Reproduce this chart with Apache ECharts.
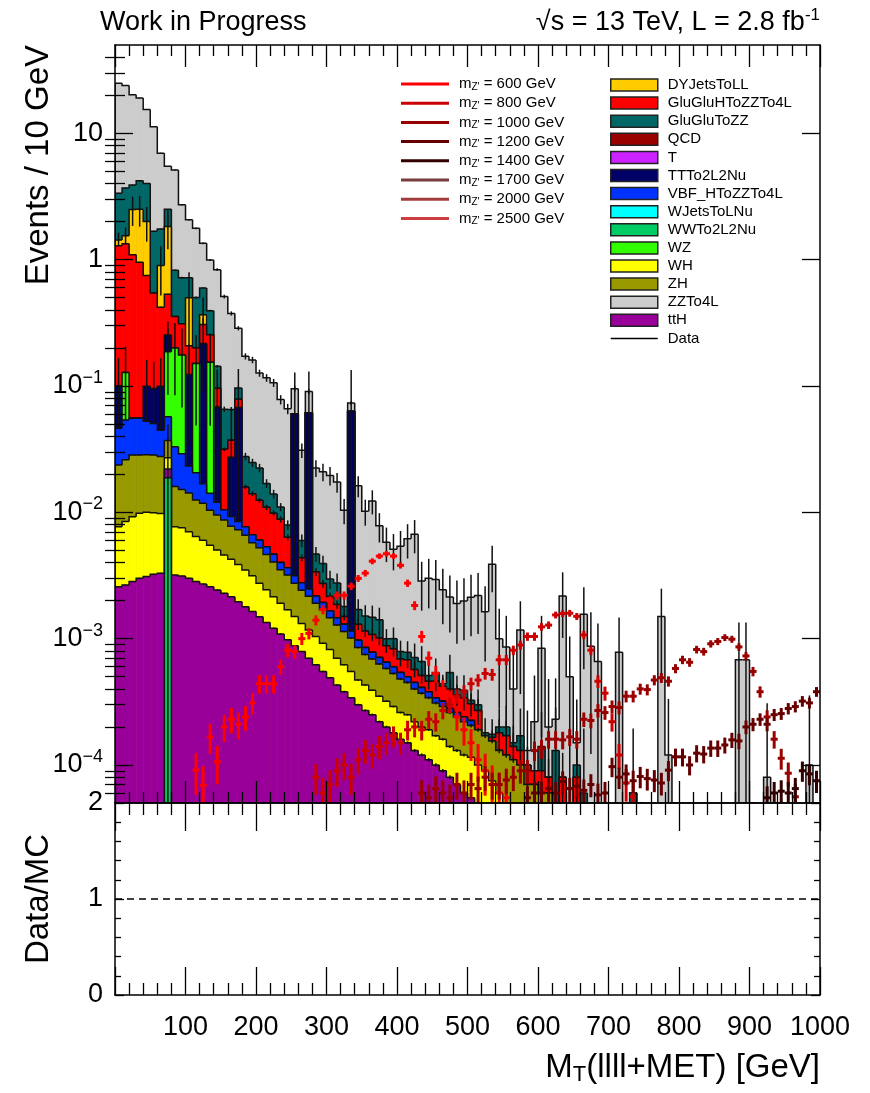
<!DOCTYPE html>
<html>
<head>
<meta charset="utf-8">
<title>MT(llll+MET) stack</title>
<script src="https://cdn.jsdelivr.net/npm/echarts@6/dist/echarts.min.js"></script>
<style>
  html, body { margin: 0; padding: 0; background: #fff; }
  #chart { width: 870px; height: 1093px; }
</style>
</head>
<body>
<div id="chart"></div>
<script>
// 100 bins of 10 GeV, 0 - 1000 GeV; bin 0 = 0-10 GeV
const binWidth = 10;
const nBins = 100;
const YMIN = 5e-5, YMAX = 50;
const FONT = '"Liberation Sans", Arial, Helvetica, sans-serif';

// backgrounds, events / bin
const wwTo2L2Nu = [
  0, 0, 0, 0, 0, 0, 0, 0.0188, 0, 0,
  0, 0, 0, 0, 0, 0, 0, 0, 0, 0,
  0, 0, 0, 0, 0, 0, 0, 0, 0, 0,
  0, 0, 0, 0, 0, 0, 0, 0, 0, 0,
  0, 0, 0, 0, 0, 0, 0, 0, 0, 0,
  0, 0, 0, 0, 0, 0, 0, 0, 0, 0,
  0, 0, 0, 0, 0, 0, 0, 0, 0, 0,
  0, 0, 0, 0, 0, 0, 0, 0, 0, 0,
  0, 0, 0, 0, 0, 0, 0, 0, 0, 0,
  0, 0, 0, 0, 0, 0, 0, 0, 0, 0
];
const ttH = [
  0.00258, 0.00266, 0.00283, 0.00301, 0.0031, 0.00324, 0.0033, 0.0032, 0.00319, 0.00313,
  0.00301, 0.00283, 0.00271, 0.00258, 0.00243, 0.00229, 0.00215, 0.00196, 0.00179, 0.00164,
  0.00149, 0.00134, 0.00121, 0.00109, 0.00098, 0.00088, 0.00079, 0.0007, 0.00062, 0.00055,
  0.00049, 0.00043, 0.00038, 0.00034, 0.0003, 0.00027, 0.00025, 0.00022, 0.0002, 0.00018,
  0.00016, 0.00015, 0.00013, 0.00012, 0.00011, 0.0001, 0.00009, 0.00008, 0.00007, 0.00006,
  0.000055, 0.00004, 0.00003, 0.00002, 0.00001, 0, 0, 0, 0, 0,
  0, 0, 0, 0, 0, 0, 0, 0, 0, 0,
  0, 0, 0, 0, 0, 0, 0, 0, 0, 0,
  0, 0, 0, 0, 0, 0, 0, 0, 0, 0,
  0, 0, 0, 0, 0, 0, 0, 0, 0, 0
];
const wh = [
  0.0051, 0.0058, 0.0064, 0.0068, 0.0069, 0.0067, 0.0065, 0.005, 0.0045, 0.0044,
  0.004, 0.0036, 0.0033, 0.0029, 0.0026, 0.0023, 0.0021, 0.0019, 0.0017, 0.0015,
  0.00125, 0.0011, 0.00094, 0.00082, 0.00071, 0.00062, 0.00053, 0.00047, 0.00042, 0.00037,
  0.00033, 0.00027, 0.00024, 0.00021, 0.00017, 0.00016, 0.00014, 0.00013, 0.00012, 0.00011,
  0.0001, 0.0001, 0.00009, 0.00008, 0.00008, 0.00007, 0.00007, 0.00006, 0.00006, 0.00006,
  0.00006, 0.00006, 0.00006, 0.000055, 0.00005, 0.00005, 0.00004, 0.00003, 0, 0,
  0, 0, 0, 0, 0, 0, 0, 0, 0, 0,
  0, 0, 0, 0, 0, 0, 0, 0, 0, 0,
  0, 0, 0, 0, 0, 0, 0, 0, 0, 0,
  0, 0, 0, 0, 0, 0, 0, 0, 0, 0
];
const zh = [
  0.016, 0.0176, 0.0192, 0.0186, 0.0185, 0.0185, 0.0179, 0.01, 0.0083, 0.0076,
  0.0072, 0.0061, 0.0058, 0.0049, 0.0045, 0.0041, 0.0035, 0.0034, 0.0031, 0.0026,
  0.0025, 0.0022, 0.0019, 0.0016, 0.0015, 0.00125, 0.0011, 0.001, 0.00087, 0.00077,
  0.00064, 0.00058, 0.00052, 0.00046, 0.00038, 0.00032, 0.0003, 0.00028, 0.00026, 0.00024,
  0.00022, 0.0002, 0.00018, 0.00017, 0.00015, 0.00014, 0.00013, 0.00012, 0.00011, 0.0001,
  0.00009, 0.00009, 0.00008, 0.00008, 0.00007, 0.00007, 0.00007, 0.00007, 0.00007, 0.00007,
  0.00006, 0.00006, 0.00005, 0.00004, 0.00003, 0, 0, 0, 0, 0,
  0, 0, 0, 0, 0, 0, 0, 0, 0, 0,
  0, 0, 0, 0, 0, 0, 0, 0, 0, 0,
  0, 0, 0, 0, 0, 0, 0, 0, 0, 0
];
const vbfHToZZTo4L = [
  0.0225, 0.0278, 0.027, 0.027, 0.024, 0.022, 0.017, 0.02, 0.017, 0.014,
  0.009, 0.008, 0.005, 0.0038, 0.0025, 0.0018, 0.0015, 0.0012, 0.0011, 0.0009,
  0.0008, 0.0007, 0.0006, 0.0005, 0.00045, 0.0004, 0.00035, 0.0003, 0.00027, 0.00024,
  0.0002, 0.00018, 0.00016, 0.00014, 0.00012, 0.0001, 0.00009, 0.00008, 0.00007, 0.00007,
  0.00006, 0.00005, 0.00005, 0.00004, 0.00004, 0.00003, 0.00003, 0.00002, 0.00002, 0.00002,
  0.00002, 0, 0, 0, 0, 0, 0, 0, 0, 0,
  0, 0, 0, 0, 0, 0, 0, 0, 0, 0,
  0, 0, 0, 0, 0, 0, 0, 0, 0, 0,
  0, 0, 0, 0, 0, 0, 0, 0, 0, 0,
  0, 0, 0, 0, 0, 0, 0, 0, 0, 0
];
const wz = [
  0, 0.074, 0, 0, 0, 0, 0, 0.13, 0.167, 0.147,
  0, 0.13, 0, 0.14, 0, 0, 0, 0, 0, 0,
  0, 0, 0, 0, 0, 0, 0, 0, 0, 0,
  0, 0, 0, 0, 0, 0, 0, 0, 0, 0,
  0, 0, 0, 0, 0, 0, 0, 0, 0, 0,
  0, 0, 0, 0, 0, 0, 0, 0, 0, 0,
  0, 0, 0, 0, 0, 0, 0, 0, 0, 0,
  0, 0, 0, 0, 0, 0, 0, 0, 0, 0,
  0, 0, 0, 0, 0, 0, 0, 0, 0, 0,
  0, 0, 0, 0, 0, 0, 0, 0, 0, 0
];
const ttTo2L2Nu = [
  0.054, 0, 0, 0, 0.047, 0.045, 0.055, 0.066, 0, 0,
  0.1, 0, 0.2, 0, 0.056, 0, 0.018, 0.059, 0, 0,
  0, 0, 0, 0, 0, 0.057, 0, 0.059, 0, 0,
  0, 0, 0, 0.062, 0, 0, 0, 0, 0, 0,
  0, 0, 0, 0, 0, 0, 0, 0, 0, 0,
  0, 0, 0, 0, 0, 0, 0, 0, 0, 0,
  0, 0, 0, 0, 0, 0, 0, 0, 0, 0,
  0, 0, 0, 0, 0, 0, 0, 0, 0, 0,
  0, 0, 0, 0, 0, 0, 0, 0, 0, 0,
  0, 0, 0, 0, 0, 0, 0, 0, 0, 0
];
const gluGluHToZZTo4L = [
  1.19, 1.21, 1.04, 0.9, 0.65, 0.45, 0.32, 0.28, 0.154, 0.134,
  0.085, 0.05, 0.09, 0.1, 0.028, 0.021, 0.01, 0.011, 0.0082, 0.0074,
  0.0064, 0.0056, 0.0052, 0.0048, 0.0027, 0, 0.0016, 0, 0.0012, 0.0008,
  0.0005, 0.0004, 0.0002, 0, 0.00033, 0.0003, 0.0003, 0.0003, 0.00023, 0.00023,
  0.00015, 0.00018, 0.00012, 0.0001, 0.00008, 0.00012, 0.0001, 0.00012, 0.0001, 0.0001,
  0.00008, 0.00008, 0, 0.00001, 0.00005, 0.00005, 0.00003, 0.00003, 0.00003, 0.00002,
  0.00003, 0.00002, 0, 0.00004, 0, 0.00008, 0, 0, 0, 0,
  0, 0, 0, 0, 0, 0, 0, 0, 0, 0,
  0, 0, 0, 0, 0, 0, 0, 0, 0, 0,
  0, 0, 0, 0, 0, 0, 0, 0, 0, 0
];
const dyJetsToLL = [
  0.14, 0.21, 1.4, 1.55, 1.25, 0, 0.48, 1.3, 0, 0,
  0.29, 0, 0.06, 0, 0, 0, 0, 0, 0, 0,
  0, 0, 0, 0, 0, 0, 0, 0, 0, 0,
  0, 0, 0, 0, 0, 0, 0, 0, 0, 0,
  0, 0, 0, 0, 0, 0, 0, 0, 0, 0,
  0, 0, 0, 0, 0, 0, 0, 0, 0, 0,
  0, 0, 0, 0, 0, 0, 0, 0, 0, 0,
  0, 0, 0, 0, 0, 0, 0, 0, 0, 0,
  0, 0, 0, 0, 0, 0, 0, 0, 0, 0,
  0, 0, 0, 0, 0, 0, 0, 0, 0, 0
];
const gluGluToZZ = [
  1.93, 2.15, 1.4, 1.7, 2.0, 1.13, 0.85, 0.67, 0.47, 0.41,
  0.22, 0.3, 0.23, 0.14, 0.047, 0.034, 0.028, 0.018, 0.0118, 0.0107,
  0.01, 0.006, 0.0041, 0.0022, 0.0016, 0, 0.0016, 0, 0.0013, 0.0012,
  0.0008, 0.0009, 0.0003, 0, 0.0004, 0.00036, 0.0004, 0.0004, 0.00012, 0.00017,
  0.0001, 0.0001, 0.00014, 0.00015, 0.00005, 0.00008, 0.00002, 0.00014, 0.00004, 0.00005,
  0.00002, 0.00003, 0.00001, 0.00001, 0.00002, 0.00003, 0.00001, 0.00004, 0, 0,
  0.00005, 0, 0.00008, 0, 0.00002, 0.00002, 0.00006, 0.00001, 0, 0,
  0, 0.00005, 0, 0.00006, 0, 0, 0, 0, 0.00005, 0,
  0, 0, 0, 0, 0, 0, 0, 0, 0, 0,
  0, 0, 0, 0, 0, 0, 0, 0, 0, 0
];
const zzTo4L = [
  21.5, 20.2, 16.3, 14.8, 11.4, 9.6, 5.2, 2.97, 4.3, 2.0,
  1.35, 1.27, 0.75, 0.6, 0.69, 0.445, 0.31, 0.19, 0.144, 0.136,
  0.104, 0.099, 0.092, 0.067, 0.058, 0.035, 0.025, 0.029, 0.0177, 0.017,
  0.0166, 0.0146, 0.0086, 0.01, 0.0145, 0.0087, 0.0108, 0.0064, 0.0048, 0.0041,
  0.0046, 0.0054, 0.006, 0.0022, 0.0025, 0.0024, 0.002, 0.0016, 0.0015, 0.0016,
  0.0018, 0.0019, 0.00145, 0.0037, 0.0008, 0.00066, 0.00025, 0.001, 0.00003, 0.00013,
  0.0007, 0.00012, 0.0001, 0.0021, 0.00045, 0.00005, 0.0015, 0.00086, 0.00066, 0,
  0, 0.00073, 0, 0, 0, 0, 0, 0.0015, 0.00007, 0,
  0, 0, 0, 0, 0, 0, 0, 0, 0.00068, 0.00068,
  0, 0, 0.00008, 0, 0, 0, 0, 0, 0.0001, 0
];

// Z' signals: first bin index, then values per bin
const sig600Start = 11;
const sig600 = [
  9.1e-5, 6.9e-5, 1.67e-4, 1.06e-4, 2.0e-4, 2.3e-4, 2.1e-4, 2.4e-4, 3.1e-4, 4.4e-4,
  4.4e-4, 4.4e-4, 6.0e-4, 8.1e-4, 7.9e-4, 1.0e-3, 1.1e-3, 1.4e-3, 1.7e-3, 2.0e-3,
  2.2e-3, 2.2e-3, 2.6e-3, 3.0e-3, 3.3e-3, 4.1e-3, 4.5e-3, 4.7e-3, 4.5e-3, 3.8e-3,
  2.75e-3, 1.83e-3, 1.04e-3, 7.0e-4, 5.3e-4, 4.0e-4, 3.2e-4, 2.4e-4, 1.9e-4, 1.5e-4,
  1.1e-4, 9e-5, 7e-5, 6e-5, 5.5e-5
];
const sig800Start = 28;
const sig800 = [
  8e-5, 6e-5, 7e-5, 9e-5, 1.0e-4, 8e-5, 1.1e-4, 1.3e-4, 1.2e-4, 1.4e-4,
  1.5e-4, 1.7e-4, 1.5e-4, 1.9e-4, 2.0e-4, 1.9e-4, 2.3e-4, 2.2e-4, 2.7e-4, 3.0e-4,
  3.5e-4, 3.8e-4, 4.4e-4, 4.7e-4, 5.3e-4, 5.2e-4, 6.8e-4, 6.8e-4, 8.1e-4, 8.9e-4,
  1.04e-3, 1.04e-3, 1.24e-3, 1.28e-3, 1.54e-3, 1.58e-3, 1.59e-3, 1.5e-3, 1.07e-3, 8.1e-4,
  4.6e-4, 3.7e-4, 2.2e-4, 1.2e-4, 7.2e-5, 5.6e-5
];
const sig1000Start = 43;
const sig1000 = [
  6e-5, 5.5e-5, 6.5e-5, 6e-5, 5.5e-5, 7e-5, 6e-5, 7e-5, 6.5e-5, 8e-5,
  7e-5, 7e-5, 7.6e-5, 8e-5, 9e-5, 9e-5, 1.3e-4, 1.35e-4, 1.6e-4, 1.6e-4,
  1.58e-4, 1.67e-4, 1.6e-4, 2.3e-4, 2.25e-4, 2.7e-4, 2.6e-4, 2.9e-4, 2.85e-4, 3.5e-4,
  3.5e-4, 4.0e-4, 3.95e-4, 4.7e-4, 4.9e-4, 4.6e-4, 5.8e-4, 6.8e-4, 6.5e-4, 8.2e-4,
  7.9e-4, 9.1e-4, 9.5e-4, 1.02e-3, 9.9e-4, 8.6e-4, 7.3e-4, 5.5e-4, 3.8e-4, 2.4e-4,
  1.6e-4, 1.13e-4, 8.6e-5, 5.6e-5
];
const sig1200Start = 58;
const sig1200 = [
  5.5e-5, 6e-5, 6e-5, 6.5e-5, 6e-5, 7.4e-5, 6.5e-5, 6.8e-5, 6.3e-5, 7e-5,
  5.8e-5, 6e-5, 9.7e-5, 8e-5, 8.5e-5, 7.5e-5, 8.1e-5, 7.8e-5, 7.6e-5, 7.2e-5,
  9.1e-5, 1.16e-4, 1.16e-4, 1e-4, 1.24e-4, 1.22e-4, 1.36e-4, 1.36e-4, 1.44e-4, 1.58e-4,
  1.55e-4, 2.0e-4, 2.1e-4, 2.3e-4, 2.1e-4, 2.5e-4, 2.55e-4, 2.8e-4, 2.9e-4, 3.2e-4,
  3.1e-4, 3.8e-4
];
const sig1400Start = 92;
const sig1400 = [5.5e-5, 6e-5, 6.2e-5, 6e-5, 6.5e-5, 9e-5, 8.5e-5, 7.5e-5];

const decadeTicks = [1e-4, 1e-3, 1e-2, 1e-1, 1, 10];
const xLabelTicks = [100, 200, 300, 400, 500, 600, 700, 800, 900, 1000];

// log minor ticks at 2..9 x 10^n inside the axis range
const logMinorTicks = [];
for (let e = -5; e <= 1; e++) {
  for (let k = 2; k <= 9; k++) {
    const v = +(k * Math.pow(10, e)).toPrecision(3);
    if (v > YMIN * 1.001 && v < YMAX * 0.999) logMinorTicks.push(v);
  }
}

// stack, bottom first; w = per-event weight for the MC error bar
const stackLayers = [
  { name: 'WWTo2L2Nu', values: wwTo2L2Nu, color: '#00cc66', w: 0.05 },
  { name: 'ttH', values: ttH, color: '#990099', w: 1e-7 },
  { name: 'WH', values: wh, color: '#ffff00', w: 2e-7 },
  { name: 'ZH', values: zh, color: '#999900', w: 5e-7 },
  { name: 'VBF_HToZZTo4L', values: vbfHToZZTo4L, color: '#0033ff', w: 1e-6 },
  { name: 'WZ', values: wz, color: '#33ff00', w: 0.08 },
  { name: 'TTTo2L2Nu', values: ttTo2L2Nu, color: '#000066', w: 0.08 },
  { name: 'GluGluHToZZTo4L', values: gluGluHToZZTo4L, color: '#ff0000', w: 5e-5 },
  { name: 'DYJetsToLL', values: dyJetsToLL, color: '#ffcc00', w: 0.3 },
  { name: 'GluGluToZZ', values: gluGluToZZ, color: '#006666', w: 3e-4 },
  { name: 'ZZTo4L', values: zzTo4L, color: '#cccccc', w: 6.5e-4 }
];
let running = new Array(nBins).fill(0);
stackLayers.forEach(l => {
  l.top = running.map((r, i) => r + l.values[i]);
  running = l.top;
});

const LINE = '#111';

function stackSeries(layer) {
  return {
    name: layer.name,
    type: 'custom',
    xAxisIndex: 0,
    yAxisIndex: 0,
    clip: true,
    itemStyle: { color: layer.color },
    data: layer.top.map((t, i) => [i * binWidth + binWidth / 2, Math.max(t, YMIN), i]),
    renderItem: (params, api) => {
      const i = api.value(2);
      const top = layer.top[i];
      const prev = i > 0 ? layer.top[i - 1] : 0;
      const x0 = i * binWidth, x1 = x0 + binWidth;
      const pTop = api.coord([x0, Math.max(top, YMIN)]);
      const pEnd = api.coord([x1, YMIN]);
      const children = [];
      if (top > YMIN) {
        children.push({
          type: 'rect',
          shape: { x: pTop[0], y: pTop[1], width: pEnd[0] - pTop[0] + 0.6, height: pEnd[1] - pTop[1] },
          style: { fill: layer.color }
        });
      }
      if (top > YMIN || prev > YMIN) {
        const yPrev = api.coord([x0, Math.max(prev, YMIN)])[1];
        children.push({
          type: 'polyline',
          shape: { points: [[pTop[0], yPrev], [pTop[0], pTop[1]], [pEnd[0], pTop[1]]] },
          style: { stroke: LINE, lineWidth: 1.5, fill: null }
        });
      }
      const v = layer.values[i];
      if (v > 0 && top > YMIN) {
        const err = Math.sqrt(v * layer.w);
        const xc = (pTop[0] + pEnd[0]) / 2;
        const yHi = api.coord([x0, top + err])[1];
        const yLo = api.coord([x0, Math.max(top - err, YMIN)])[1];
        children.push({
          type: 'line',
          shape: { x1: xc, y1: yLo, x2: xc, y2: yHi },
          style: { stroke: LINE, lineWidth: 1.5 }
        });
      }
      return { type: 'group', children };
    }
  };
}

function emptySeries(name, color) {
  return { name, type: 'custom', xAxisIndex: 0, yAxisIndex: 0, itemStyle: { color }, data: [], renderItem: () => null };
}

function signalSeries(name, color, start, values, w) {
  return {
    name,
    type: 'custom',
    xAxisIndex: 0,
    yAxisIndex: 0,
    clip: true,
    z: 4,
    itemStyle: { color },
    data: values.map((v, k) => [(start + k) * binWidth + binWidth / 2, v]),
    renderItem: (params, api) => {
      const xc = api.value(0), v = api.value(1);
      const err = Math.sqrt(v * w);
      const c = api.coord([xc, v]);
      const l = api.coord([xc - binWidth / 2, v]);
      const r = api.coord([xc + binWidth / 2, v]);
      const hi = api.coord([xc, v + err]);
      const lo = api.coord([xc, Math.max(v - err, YMIN * 0.2)]);
      return {
        type: 'group',
        children: [
          { type: 'line', shape: { x1: l[0], y1: c[1], x2: r[0], y2: c[1] }, style: { stroke: color, lineWidth: 3 } },
          { type: 'line', shape: { x1: c[0], y1: lo[1], x2: c[0], y2: hi[1] }, style: { stroke: color, lineWidth: 3 } }
        ]
      };
    }
  };
}

const signals = [
  { name: 'mz600', mass: 600, color: '#ff0000', start: sig600Start, values: sig600, w: 1.2e-5 },
  { name: 'mz800', mass: 800, color: '#cc0000', start: sig800Start, values: sig800, w: 6e-6 },
  { name: 'mz1000', mass: 1000, color: '#990000', start: sig1000Start, values: sig1000, w: 4e-6 },
  { name: 'mz1200', mass: 1200, color: '#660000', start: sig1200Start, values: sig1200, w: 3e-6 },
  { name: 'mz1400', mass: 1400, color: '#330000', start: sig1400Start, values: sig1400, w: 3e-6 },
  { name: 'mz1700', mass: 1700, color: '#7a3d3d', start: 0, values: [], w: 3e-6 },
  { name: 'mz2000', mass: 2000, color: '#a33d3d', start: 0, values: [], w: 3e-6 },
  { name: 'mz2500', mass: 2500, color: '#cc3d3d', start: 0, values: [], w: 3e-6 }
];

const series = [];
stackLayers.slice().reverse().forEach(l => series.push(stackSeries(l)));
series.push(emptySeries('QCD', '#990000'));
series.push(emptySeries('T', '#cc22ff'));
series.push(emptySeries('WJetsToLNu', '#00ffff'));
signals.forEach(s => series.push(signalSeries(s.name, s.color, s.start, s.values, s.w)));
series.push(emptySeries('Data', '#000'));
series.push({
  type: 'line', xAxisIndex: 2, yAxisIndex: 4, silent: true, symbol: 'none',
  data: [[0, 1], [1000, 1]],
  lineStyle: { color: '#000', width: 1.4, type: [7, 5] }
});

const frame = { show: true, onZero: false, lineStyle: { color: '#000', width: 1.5 } };
const tickStyle = { color: '#000', width: 1.3 };

function xAx(grid, pos, major, minor, labels) {
  return {
    gridIndex: grid, type: 'value', position: pos, min: 0, max: 1000, interval: 100, z: 10,
    axisLine: frame,
    axisTick: { show: true, inside: true, length: major, lineStyle: tickStyle },
    minorTick: { show: true, splitNumber: 5, length: minor, lineStyle: tickStyle },
    splitLine: { show: false },
    axisLabel: labels ? {
      show: true, margin: 19, color: '#000', fontFamily: FONT, fontSize: 27,
      customValues: xLabelTicks,
      formatter: v => String(v)
    } : { show: false }
  };
}

function logAx(pos, ticks, len, labels) {
  return {
    gridIndex: 0, type: 'log', logBase: 10, position: pos, min: YMIN, max: YMAX, z: 10,
    axisLine: labels !== null ? frame : { show: false },
    axisTick: { show: true, inside: true, length: len, customValues: ticks, lineStyle: tickStyle },
    minorTick: { show: false },
    splitLine: { show: false },
    axisLabel: labels ? {
      show: true, customValues: decadeTicks, margin: 12, color: '#000', fontFamily: FONT, fontSize: 27,
      formatter: v => {
        const e = Math.round(Math.log10(v));
        if (e === 0) return '1';
        if (e === 1) return '10';
        return '{b|10}{s|\u2212' + (-e) + '}';
      },
      rich: {
        b: { fontSize: 27, fontFamily: FONT, color: '#000', lineHeight: 34 },
        s: { fontSize: 18, fontFamily: FONT, color: '#000', lineHeight: 18, verticalAlign: 'top' }
      }
    } : { show: false }
  };
}

function ratioAx(pos, labels) {
  return {
    gridIndex: 1, type: 'value', position: pos, min: 0, max: 2, interval: 1, z: 10,
    axisLine: frame,
    axisTick: { show: true, inside: true, length: 9, lineStyle: tickStyle },
    minorTick: { show: true, splitNumber: 5, length: 6, lineStyle: tickStyle },
    splitLine: { show: false },
    axisLabel: labels ? { show: true, margin: 12, color: '#000', fontFamily: FONT, fontSize: 27 } : { show: false }
  };
}

const chart = echarts.init(document.getElementById('chart'), null, { renderer: 'canvas' });
chart.setOption({
  animation: false,
  backgroundColor: '#fff',
  textStyle: { fontFamily: FONT },
  grid: [
    { left: 115, top: 45, width: 705, height: 758, outerBoundsMode: 'none' },
    { left: 115, top: 803, width: 705, height: 192, outerBoundsMode: 'none' }
  ],
  xAxis: [
    xAx(0, 'bottom', 22, 11, false),
    xAx(0, 'top', 22, 11, false),
    xAx(1, 'bottom', 28, 12, true),
    xAx(1, 'top', 28, 12, false)
  ],
  yAxis: [
    logAx('left', decadeTicks, 18, true),
    logAx('left', logMinorTicks, 10, null),
    logAx('right', decadeTicks, 18, false),
    logAx('right', logMinorTicks, 10, null),
    ratioAx('left', true),
    ratioAx('right', false)
  ],
  legend: [
    {
      orient: 'vertical', left: 396, top: 71, itemWidth: 48, itemHeight: 3, itemGap: 3.2,
      selectedMode: false, icon: 'rect',
      itemStyle: { borderWidth: 0 },
      data: signals.map(s => s.name),
      formatter: name => {
        const s = signals.find(q => q.name === name);
        return '{n|m}{sub|Z\'}{n| = ' + s.mass + ' GeV}';
      },
      textStyle: {
        color: '#000', fontFamily: FONT, fontSize: 15, lineHeight: 16, padding: [0, 0, 0, 5],
        rich: {
          n: { fontSize: 15, fontFamily: FONT, color: '#000', lineHeight: 16 },
          sub: { fontSize: 10, fontFamily: FONT, color: '#000', lineHeight: 10, verticalAlign: 'bottom' }
        }
      }
    },
    {
      orient: 'vertical', left: 605, top: 72.5, itemWidth: 47, itemHeight: 12, itemGap: 3.1,
      selectedMode: false,
      itemStyle: { borderColor: '#222', borderWidth: 1.5 },
      data: [
        'DYJetsToLL', 'GluGluHToZZTo4L', 'GluGluToZZ', 'QCD', 'T', 'TTTo2L2Nu', 'VBF_HToZZTo4L',
        'WJetsToLNu', 'WWTo2L2Nu', 'WZ', 'WH', 'ZH', 'ZZTo4L', 'ttH'
      ].map(n => ({ name: n, icon: 'rect' })).concat([
        { name: 'Data', icon: 'path://M0,0H48V1.5H0Z', itemStyle: { color: '#000', borderWidth: 0 } }
      ]),
      textStyle: { color: '#000', fontFamily: FONT, fontSize: 15, lineHeight: 15, padding: [0, 0, 0, 5] }
    }
  ],
  graphic: [
    {
      type: 'text', x: 100, y: 23,
      style: { text: 'Work in Progress', fontSize: 27, fontFamily: FONT, fill: '#000', verticalAlign: 'middle' }
    },
    {
      type: 'text', x: 820, y: 23,
      style: {
        text: '{n|\u221As = 13 TeV, L = 2.8 fb}{s|-1}', align: 'right', verticalAlign: 'middle',
        rich: {
          n: { fontSize: 27, fontFamily: FONT, fill: '#000', lineHeight: 32 },
          s: { fontSize: 17, fontFamily: FONT, fill: '#000', lineHeight: 17, verticalAlign: 'top' }
        }
      }
    },
    {
      type: 'text', x: 39, y: 45, rotation: Math.PI / 2,
      style: { text: 'Events / 10 GeV', fontSize: 33, fontFamily: FONT, fill: '#000', align: 'right', verticalAlign: 'middle' }
    },
    {
      type: 'text', x: 39, y: 899, rotation: Math.PI / 2,
      style: { text: 'Data/MC', fontSize: 33, fontFamily: FONT, fill: '#000', align: 'center', verticalAlign: 'middle' }
    },
    {
      type: 'text', x: 820, y: 1068,
      style: {
        text: '{n|M}{t|T}{n|(llll+MET) [GeV]}', align: 'right', verticalAlign: 'middle',
        rich: {
          n: { fontSize: 33, fontFamily: FONT, fill: '#000', lineHeight: 36 },
          t: { fontSize: 22, fontFamily: FONT, fill: '#000', lineHeight: 22, verticalAlign: 'bottom' }
        }
      }
    }
  ],
  series
});
</script>
</body>
</html>
